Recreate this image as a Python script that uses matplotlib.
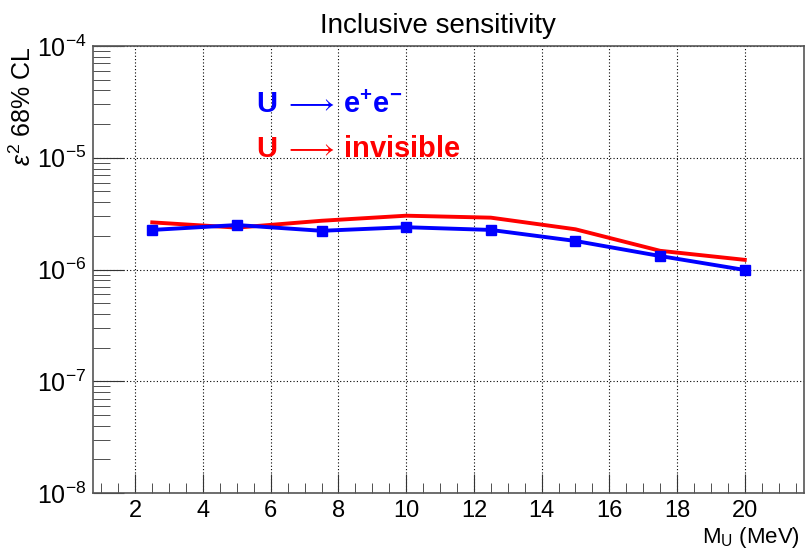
import numpy as np
import matplotlib
matplotlib.use('Agg')
import matplotlib.pyplot as plt
from matplotlib.ticker import FixedLocator, LogLocator, LogFormatterMathtext, NullFormatter

plt.rcParams.update({
    'font.family': ['Liberation Sans', 'DejaVu Sans'],
    'mathtext.fontset': 'custom',
    'mathtext.rm': 'Liberation Sans',
    'mathtext.it': 'Liberation Sans:italic',
    'mathtext.bf': 'Liberation Sans:bold',
})

# data
mass = [2.5, 5, 7.5, 10, 12.5, 15, 17.5, 20]
eps2_ee = [2.26e-6, 2.50e-6, 2.22e-6, 2.39e-6, 2.26e-6, 1.80e-6, 1.32e-6, 0.99e-6]
eps2_inv = [2.64e-6, 2.37e-6, 2.73e-6, 3.03e-6, 2.91e-6, 2.29e-6, 1.47e-6, 1.22e-6]
x_major = [2, 4, 6, 8, 10, 12, 14, 16, 18, 20]

fig = plt.figure(figsize=(8.05, 5.5), dpi=100)
ax = fig.add_axes([93 / 805, 1 - 493 / 550, (804 - 93) / 805, (493 - 46) / 550])

ax.plot(mass, eps2_inv, color='#ff0000', linewidth=2.8, zorder=3)
ax.plot(mass, eps2_ee, color='#0000ff', linewidth=2.8, marker='s', markersize=7, zorder=4)

ax.set_yscale('log')
ax.set_xlim(0.75, 21.75)
ax.set_ylim(1e-8, 1e-4)

ax.xaxis.set_major_locator(FixedLocator(x_major))
ax.xaxis.set_minor_locator(FixedLocator(np.arange(1.0, 21.75, 0.5)))
ax.yaxis.set_major_locator(LogLocator(base=10, numticks=10))
ax.yaxis.set_minor_locator(LogLocator(base=10, subs=np.arange(2, 10), numticks=20))
ax.yaxis.set_major_formatter(LogFormatterMathtext())
ax.yaxis.set_minor_formatter(NullFormatter())

ax.tick_params(axis='both', which='both', direction='in', top=False, right=False,
               color='#333333', labelsize=18)
ax.tick_params(axis='x', which='major', length=14, pad=5, labelsize=17)
ax.tick_params(axis='x', which='minor', length=7)
ax.tick_params(axis='y', which='major', length=22, pad=5)
ax.tick_params(axis='y', which='minor', length=12)

ax.grid(True, which='major', linestyle=(0, (1, 2)), color='black', linewidth=0.8)
for s in ax.spines.values():
    s.set_color('#555555')
    s.set_linewidth(1.2)

fig.text(438 / 805, 1 - 33 / 550, 'Inclusive sensitivity', ha='center', va='baseline', fontsize=20)
fig.text(23 / 805, 1 - 46 / 550, r'$\epsilon^2$ 68% CL', rotation=90, ha='center', va='top', fontsize=18)
fig.text(800 / 805, 1 - 543 / 550, r'M$_{\mathrm{U}}$ (MeV)', ha='right', va='baseline', fontsize=16)

ax.text(256 / 805, 1 - 105 / 550, r'$\mathbf{U}\;\longrightarrow\,\mathbf{e^{+}e^{-}}$', transform=fig.transFigure,
        color='#0000ff', fontsize=21, va='center', ha='left')
ax.text(256 / 805, 1 - 149 / 550, r'$\mathbf{U}\;\longrightarrow\,$' + 'invisible', transform=fig.transFigure,
        color='#ff0000', fontsize=21, fontweight='bold', va='center', ha='left')

fig.savefig('out.png', dpi=100)
